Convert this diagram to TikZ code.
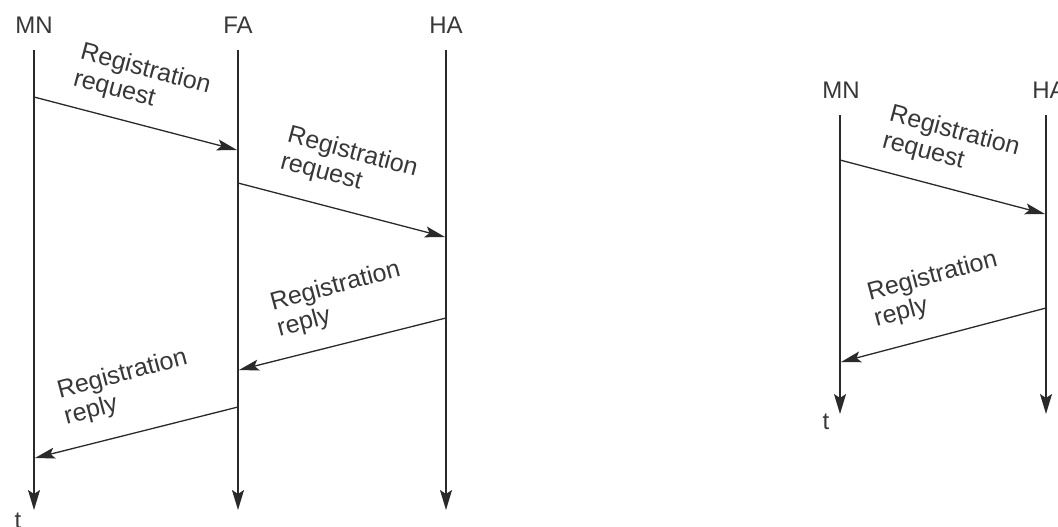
\documentclass[tikz,border=0pt]{standalone}
\usepackage{fontspec}
\setmainfont{Liberation Sans}
\usetikzlibrary{arrows.meta}
\definecolor{ink}{HTML}{2A2A2A}
\definecolor{txt}{HTML}{383838}
\tikzset{
  lifeline/.style={draw=ink, line width=1.6pt, -{Stealth[length=20pt,width=12pt,inset=4pt]}},
  msg/.style={draw=ink, line width=1.3pt, -{Stealth[length=20pt,width=11pt,inset=4pt]}},
  entity/.style={text=txt, font=\fontsize{24}{28}\selectfont, inner sep=0pt},
  msglabel/.style={text=txt, font=\fontsize{25}{27}\selectfont, align=left, inner sep=0pt},
  tlabel/.style={text=txt, font=\fontsize{24}{28}\selectfont, inner sep=0pt}
}
\begin{document}
\begin{tikzpicture}[x=1pt,y=-1pt]
\useasboundingbox (0,0) rectangle (1058,527);
\fill[white] (0,0) rectangle (1058,527);
% ---------- left diagram ----------
\node[entity] (mn) at (34,25) {MN};
\node[entity] (fa) at (238,25) {FA};
\node[entity] (ha) at (446,25) {HA};
\coordinate (mnT) at (34,50);  \coordinate (mnB) at (34,510);
\coordinate (faT) at (238,50); \coordinate (faB) at (238,510);
\coordinate (haT) at (446,50); \coordinate (haB) at (446,510);
\draw[lifeline] (mnT) -- (mnB);
\draw[lifeline] (faT) -- (faB);
\draw[lifeline] (haT) -- (haB);
\node[tlabel] (t1) at (18,521) {t};
\coordinate (m1s) at (34,97);   \coordinate (m1e) at (237,150);
\coordinate (m2s) at (238,183); \coordinate (m2e) at (445,237);
\coordinate (m3s) at (446,318); \coordinate (m3e) at (239,370);
\coordinate (m4s) at (238,407); \coordinate (m4e) at (35,458);
\draw[msg] (m1s) -- (m1e);
\draw[msg] (m2s) -- (m2e);
\draw[msg] (m3s) -- (m3e);
\draw[msg] (m4s) -- (m4e);
\node[msglabel, rotate=-15] (l1) at (142,83) {Registration\\request};
\node[msglabel, rotate=-15] (l2) at (349,166) {Registration\\request};
\node[msglabel, rotate=15] (l3) at (339,300) {Registration\\reply};
\node[msglabel, rotate=15] (l4) at (126,388) {Registration\\reply};
% ---------- right diagram ----------
\node[entity] (mn2) at (841,90) {MN};
\node[entity] (ha2) at (1049,90) {HA};
\coordinate (mn2T) at (840,115);  \coordinate (mn2B) at (840,414);
\coordinate (ha2T) at (1046,115); \coordinate (ha2B) at (1046,414);
\draw[lifeline] (mn2T) -- (mn2B);
\draw[lifeline] (ha2T) -- (ha2B);
\node[tlabel] (t2) at (826,422) {t};
\coordinate (r1s) at (840,160);  \coordinate (r1e) at (1045,214);
\coordinate (r2s) at (1046,308); \coordinate (r2e) at (841,362);
\draw[msg] (r1s) -- (r1e);
\draw[msg] (r2s) -- (r2e);
\node[msglabel, rotate=-15] (l5) at (951,145) {Registration\\request};
\node[msglabel, rotate=15] (l6) at (936,290) {Registration\\reply};
\end{tikzpicture}
\end{document}
